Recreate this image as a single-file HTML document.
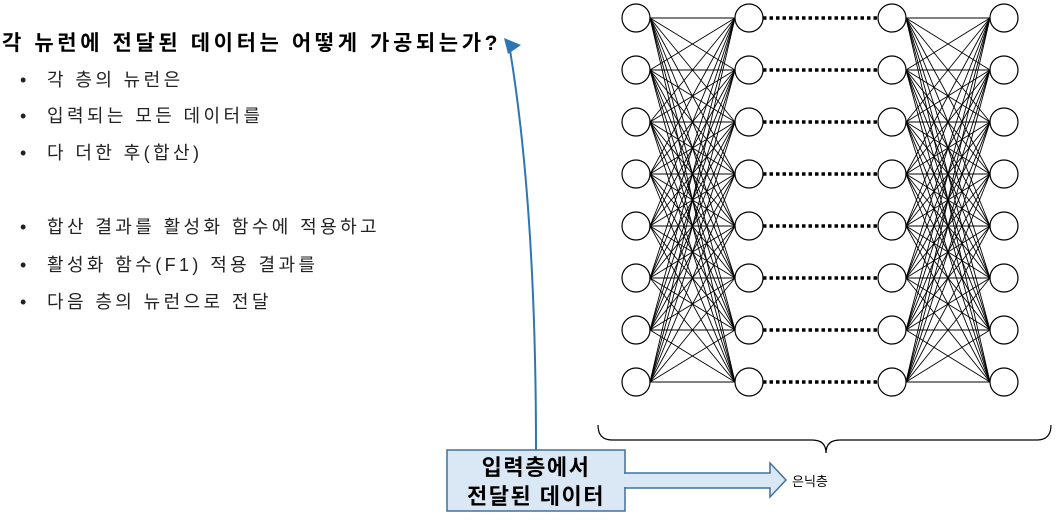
<!DOCTYPE html>
<html><head><meta charset="utf-8"><style>
body{margin:0;width:1056px;height:520px;background:#fff;overflow:hidden;position:relative;font-family:"Liberation Sans","Noto Sans CJK KR",sans-serif;}
.t{position:absolute;left:2px;top:27px;font-size:21px;font-weight:bold;color:#000;white-space:nowrap;letter-spacing:3.6px;}
.b{position:absolute;left:20px;font-size:18px;color:#222;white-space:nowrap;letter-spacing:3.4px;}
.b span{display:inline-block;width:27px;letter-spacing:0;}
svg{position:absolute;left:0;top:0;}
</style></head><body>
<div class="t">각 뉴런에 전달된 데이터는 어떻게 가공되는가?</div>
<div class="b" style="top:66px"><span>•</span>각 층의 뉴런은</div>
<div class="b" style="top:102px"><span>•</span>입력되는 모든 데이터를</div>
<div class="b" style="top:139px"><span>•</span>다 더한 후(합산)</div>
<div class="b" style="top:213px"><span>•</span>합산 결과를 활성화 함수에 적용하고</div>
<div class="b" style="top:251px"><span>•</span>활성화 함수(F1) 적용 결과를</div>
<div class="b" style="top:288px"><span>•</span>다음 층의 뉴런으로 전달</div>
<svg id="s" width="1056" height="520" xmlns="http://www.w3.org/2000/svg">
<g id="net" stroke="#000" fill="none"></g>
<path d="M598 425 Q598 440 612 440 L812 440 Q826 440 826 453 Q826 440 840 440 L1037 440 Q1051 440 1051 425" stroke="#000" stroke-width="1.2" fill="none"/>
<path d="M536 450 C536 300 528 160 510 50" stroke="#2e75b6" stroke-width="2" fill="none"/>
<polygon points="504,38 521,45 508,54" fill="#2e75b6"/>
<rect x="447" y="450" width="178" height="61" fill="#dae8f6" stroke="#41719c" stroke-width="1.5"/>
<polygon points="625,473 770,473 770,463 786,480 770,497 770,488 625,488" fill="#dae8f6" stroke="#41719c" stroke-width="1.5"/>
<rect x="624" y="474" width="3" height="13" fill="#dae8f6"/>
<text x="536" y="475" text-anchor="middle" font-size="22" font-weight="bold" letter-spacing="1.5" font-family="Liberation Sans,Noto Sans CJK KR,sans-serif">입력층에서</text>
<text x="536" y="504" text-anchor="middle" font-size="22" font-weight="bold" letter-spacing="1.5" font-family="Liberation Sans,Noto Sans CJK KR,sans-serif">전달된 데이터</text>
<text x="792" y="486" font-size="13" font-family="Liberation Sans,Noto Sans CJK KR,sans-serif">은닉층</text>
</svg>
<script>
var g=document.getElementById('net'),h='';
var ys=[];for(var i=0;i<8;i++)ys.push(18+52*i);
function net(x1,x2){for(var a=0;a<8;a++)for(var b=0;b<8;b++)h+='<line x1="'+x1+'" y1="'+ys[a]+'" x2="'+x2+'" y2="'+ys[b]+'" stroke-width="0.9"/>';}
net(650,735);net(906,990);
ys.forEach(function(y){h+='<line x1="763" y1="'+y+'" x2="878" y2="'+y+'" stroke-width="3.5" stroke-dasharray="3.5,3"/>';});
[636,749,892,1004].forEach(function(x){ys.forEach(function(y){h+='<circle cx="'+x+'" cy="'+y+'" r="14" fill="#fff" stroke-width="1.2"/>';});});
g.innerHTML=h;
</script>
</body></html>
